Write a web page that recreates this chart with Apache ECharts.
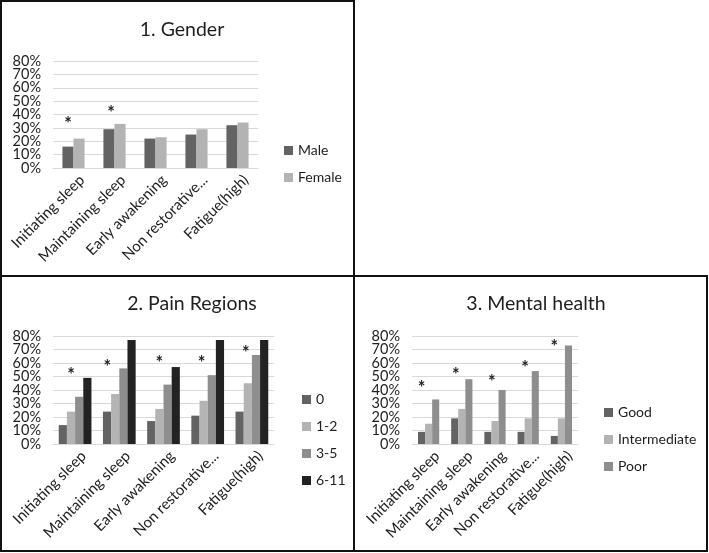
<!DOCTYPE html>
<html>
<head>
<meta charset="utf-8">
<script src="https://cdn.jsdelivr.net/npm/echarts@6/dist/echarts.min.js"></script>
<style>
html,body{margin:0;padding:0;background:#fff;}
#c{width:709px;height:553px;}
</style>
</head>
<body>
<div id="c"></div>
<script>
// ---- data ----
const categories = ['Initiating sleep', 'Maintaining sleep', 'Early awakening', 'Non restorative...', 'Fatigue(high)'];
const yTickValues = [0, 10, 20, 30, 40, 50, 60, 70, 80];

const genderMale = [16, 29, 22, 25, 32];
const genderFemale = [22, 33, 23, 29, 34];
const genderStarLevels = [36, 44, null, null, null];

const pain0 = [14, 24, 17, 21, 24];
const pain12 = [24, 37, 26, 32, 45];
const pain35 = [35, 56, 44, 51, 66];
const pain611 = [49, 77, 57, 77, 77];
const painStarLevels = [54, 60, 63, 63, 70];

const mentalGood = [9, 19, 9, 9, 6];
const mentalInter = [15, 26, 17, 19, 19];
const mentalPoor = [33, 48, 40, 54, 73];
const mentalStarLevels = [44, 54, 49, 59, 74.5];

// ---- styling ----
const FONT = 'Lato';
const C_DARK = '#636363', C_LIGHT = '#b3b3b3', C_MID = '#8e8e8e', C_BLACK = '#222222';
const TXT = '#1e1e1e';
const Y_MIN = yTickValues[0], Y_MAX = yTickValues[yTickValues.length - 1];
const Y_STEP = yTickValues[1] - yTickValues[0];

function starPoints(levels, dx) {
  const pts = [];
  levels.forEach((v, i) => {
    if (v == null) return;
    pts.push({ coord: [i, v], label: { offset: [dx ? dx[i] : 0, 4] } });
  });
  return {
    symbol: 'circle', symbolSize: 1,
    itemStyle: { color: 'rgba(0,0,0,0)' },
    label: { show: true, position: 'inside', formatter: '*', fontSize: 18, color: TXT, fontFamily: FONT, fontWeight: 'bold' },
    data: pts
  };
}

const yLabelStyle = { formatter: '{value}%', fontSize: 14.5, color: TXT, fontFamily: FONT, margin: 12 };
// main axis: inner tick labels + gridlines
function yAxisMain(gi) {
  return {
    type: 'value', gridIndex: gi, min: Y_MIN, max: Y_MAX, interval: Y_STEP,
    axisLabel: Object.assign({}, yLabelStyle, { showMinLabel: false, showMaxLabel: false }),
    splitLine: { lineStyle: { color: '#d9d9d9', width: 1 } },
    axisLine: { show: false }, axisTick: { show: false }
  };
}
// companion axis: end labels (0% and 80%) only
function yAxisEnds(gi) {
  return {
    type: 'value', gridIndex: gi, position: 'left', min: Y_MIN, max: Y_MAX, interval: Y_MAX - Y_MIN,
    axisLabel: Object.assign({}, yLabelStyle, { showMinLabel: true, showMaxLabel: true }),
    splitLine: { show: false }, axisLine: { show: false }, axisTick: { show: false }
  };
}
function xAxis(gi) {
  return {
    type: 'category', gridIndex: gi, data: categories,
    axisLabel: { rotate: 45, interval: 0, fontSize: 15, color: TXT, fontFamily: FONT, margin: 18, padding: [0, -12, 0, 0] },
    axisLine: { lineStyle: { color: '#d9d9d9', width: 1 } },
    axisTick: { show: false }
  };
}
function bar(name, data, gi, color, gap, mp) {
  const s = { type: 'bar', name, data, xAxisIndex: gi, yAxisIndex: gi * 2, barGap: '0%', barCategoryGap: gap, itemStyle: { color }, silent: true, animation: false };
  if (mp) s.markPoint = mp;
  return s;
}
const legendBase = { orient: 'vertical', itemWidth: 9, itemHeight: 9, itemGap: 12, icon: 'rect', itemStyle: { borderWidth: 0 },
  textStyle: { fontSize: 14, color: TXT, fontFamily: FONT, lineHeight: 15 }, selectedMode: false };
const titleStyle = { fontSize: 19.5, fontWeight: 'normal', color: TXT, fontFamily: FONT };

const option = {
  animation: false,
  backgroundColor: '#ffffff',
  title: [
    { text: '1. Gender', left: 177, top: 15, textAlign: 'center', textStyle: titleStyle },
    { text: '2. Pain Regions', left: 187, top: 289, textAlign: 'center', textStyle: titleStyle },
    { text: '3. Mental health', left: 531, top: 289, textAlign: 'center', textStyle: titleStyle }
  ],
  legend: [
    Object.assign({}, legendBase, { data: ['Male', 'Female'], left: 279, top: 138 }),
    Object.assign({}, legendBase, { data: ['0', '1-2', '3-5', '6-11'], left: 297, top: 387 }),
    Object.assign({}, legendBase, { data: ['Good', 'Intermediate', 'Poor'], left: 599, top: 400 })
  ],
  grid: [
    { left: 53, top: 61, width: 205, height: 107 },
    { left: 53, top: 336, width: 221, height: 108 },
    { left: 412, top: 336, width: 166, height: 108 }
  ],
  xAxis: [xAxis(0), xAxis(1), xAxis(2)],
  yAxis: [yAxisMain(0), yAxisEnds(0), yAxisMain(1), yAxisEnds(1), yAxisMain(2), yAxisEnds(2)],
  series: [
    bar('Male', genderMale, 0, C_DARK, '46%', starPoints(genderStarLevels, [0, 2, 0, 0, 0])),
    bar('Female', genderFemale, 0, C_LIGHT, '46%'),
    bar('0', pain0, 1, C_DARK, '26%'),
    bar('1-2', pain12, 1, C_LIGHT, '26%', starPoints(painStarLevels, [0, -8, 0, -2, -2])),
    bar('3-5', pain35, 1, C_MID, '26%'),
    bar('6-11', pain611, 1, C_BLACK, '26%'),
    bar('Good', mentalGood, 2, C_DARK, '36%', starPoints(mentalStarLevels, [0, 1, 4, 4, 0])),
    bar('Intermediate', mentalInter, 2, C_LIGHT, '36%'),
    bar('Poor', mentalPoor, 2, C_MID, '36%')
  ],
  graphic: [
    { type: 'rect', shape: { x: 1, y: 1, width: 353, height: 275 }, style: { fill: 'none', stroke: '#111', lineWidth: 2 } },
    { type: 'rect', shape: { x: 1, y: 276, width: 353, height: 275 }, style: { fill: 'none', stroke: '#111', lineWidth: 2 } },
    { type: 'rect', shape: { x: 354, y: 276, width: 353, height: 275 }, style: { fill: 'none', stroke: '#111', lineWidth: 2 } }
  ]
};
const chart = echarts.init(document.getElementById('c'), null, { renderer: 'canvas' });
chart.setOption(option);
</script>
</body>
</html>
